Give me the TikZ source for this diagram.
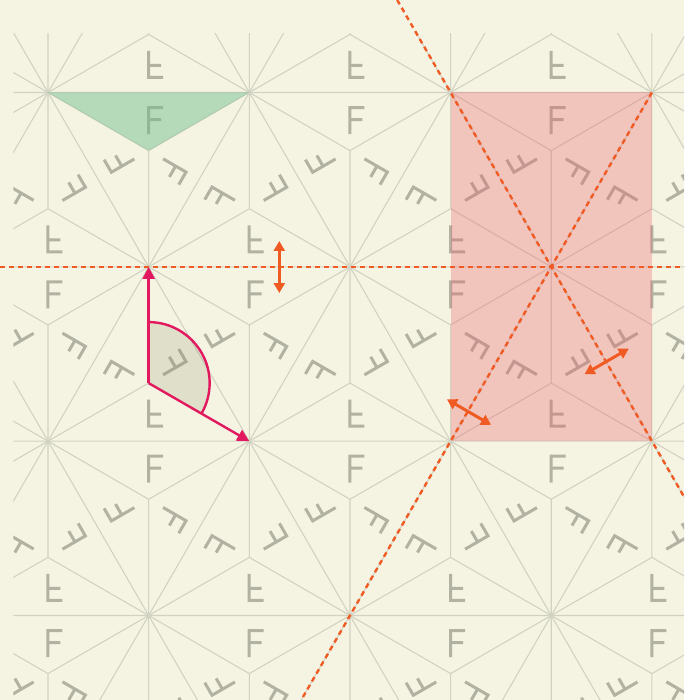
\documentclass[tikz,border=0pt]{standalone}
\usetikzlibrary{arrows.meta}
\definecolor{bgcol}{HTML}{F5F4E3}
\definecolor{linecol}{HTML}{D2D2C2}
\definecolor{glyphcol}{HTML}{B2B2A2}
\definecolor{mirrorcol}{HTML}{F05A23}
\definecolor{magcol}{HTML}{E2195F}
\definecolor{greencol}{RGB}{110,190,140}
\definecolor{pinkcol}{RGB}{235,100,110}
\definecolor{sectorcol}{RGB}{140,140,100}
\tikzset{
  gridline/.style={draw=linecol, line width=1.1pt},
  glyph/.style={fill=glyphcol},
  mirrorline/.style={draw=mirrorcol, line width=2.4pt, dash pattern=on 5pt off 4pt},
  rotarrow/.style={draw=magcol, line width=2.4pt, -{Triangle[length=12pt,width=12pt]}},
  reflarrow/.style={draw=mirrorcol, line width=3pt, {Triangle[length=10pt,width=11pt]}-{Triangle[length=10pt,width=11pt]}},
}
\newcommand\Fglyph{\fill[glyph] (-1.6,-44.6) -- (14.4,-44.6) -- (14.4,-41.6) -- (1.4,-41.6) -- (1.4,-32.6) -- (12.4,-32.6) -- (12.4,-29.6) -- (1.4,-29.6) -- (1.4,-16.6) -- (-1.6,-16.6) -- cycle;}
\begin{document}
\begin{tikzpicture}[x=1pt,y=-1pt]
\useasboundingbox (0,0) rectangle (684,700);
\fill[bgcol] (0,0) rectangle (684,700);
\begin{scope}
\clip (13.3,33.3) rectangle (684,700);
\foreach \i in {-3,...,4}{
  \foreach \j in {-1,...,4}{
    \pgfmathsetmacro\vx{48+201.3*\i+100.65*\j}
    \pgfmathsetmacro\vy{92.5+174.33*\j}
    \pgfmathsetmacro\bx{\vx+201.3}
    \pgfmathsetmacro\cx{\vx+100.65}
    \pgfmathsetmacro\cy{\vy+174.33}
    \pgfmathsetmacro\ty{\vy-174.33}
    \pgfmathsetmacro\gdy{\vy+58.11}
    \pgfmathsetmacro\guy{\vy-58.11}
    \draw[gridline] (\vx,\vy) -- (\bx,\vy) -- (\cx,\cy) -- cycle;
    \draw[gridline] (\cx,\gdy) -- (\vx,\vy) (\cx,\gdy) -- (\bx,\vy) (\cx,\gdy) -- (\cx,\cy);
    \draw[gridline] (\cx,\guy) -- (\vx,\vy) (\cx,\guy) -- (\bx,\vy) (\cx,\guy) -- (\cx,\ty);
    \foreach \t in {0,120,240}{
      \begin{scope}[shift={(\cx,\gdy)}, rotate=\t]\Fglyph\end{scope}
      \begin{scope}[shift={(\cx,\guy)}, yscale=-1, rotate=\t]\Fglyph\end{scope}
    }
  }
}
\end{scope}
% fundamental region highlight
\fill[greencol, fill opacity=0.48] (48,92.5) -- (249.3,92.5) -- (148.65,150.6) -- cycle;
% translation cell
\fill[pinkcol, fill opacity=0.33] (450.6,92.5) rectangle (651.9,441.2);
% rotation sector
\coordinate (sc) at (148.65,383.1);
\coordinate (sa) at (148.65,266.9);
\coordinate (sb) at (249.3,441.2);
\fill[sectorcol, fill opacity=0.2] (sc) -- ([shift={(90:61pt)}]sc) arc[start angle=90, end angle=-30, radius=61pt] -- cycle;
% mirror lines
\coordinate (h1) at (0,266.9);
\coordinate (h2) at (684,266.9);
\coordinate (p1) at (397.2,0);
\coordinate (p2) at (684,496.7);
\coordinate (q1) at (651.9,92.5);
\coordinate (q2) at (301.2,700);
\draw[mirrorline] (h1) -- (h2);
\draw[mirrorline] (p1) -- (p2);
\draw[mirrorline] (q1) -- (q2);
% rotation arrows
\draw[draw=magcol, line width=2.4pt] ([shift={(90:61pt)}]sc) arc[start angle=90, end angle=-30, radius=61pt];
\draw[rotarrow] (sc) -- (sa);
\draw[rotarrow] (sc) -- (sb);
% reflection arrows
\coordinate (ra1) at (279.3,241);
\coordinate (ra2) at (279.3,293);
\coordinate (rb1) at (446.9,399.3);
\coordinate (rb2) at (491.1,424.8);
\coordinate (rc1) at (584.6,374.1);
\coordinate (rc2) at (628.8,348.6);
\draw[reflarrow] (ra1) -- (ra2);
\draw[reflarrow] (rb1) -- (rb2);
\draw[reflarrow] (rc1) -- (rc2);
\end{tikzpicture}
\end{document}
